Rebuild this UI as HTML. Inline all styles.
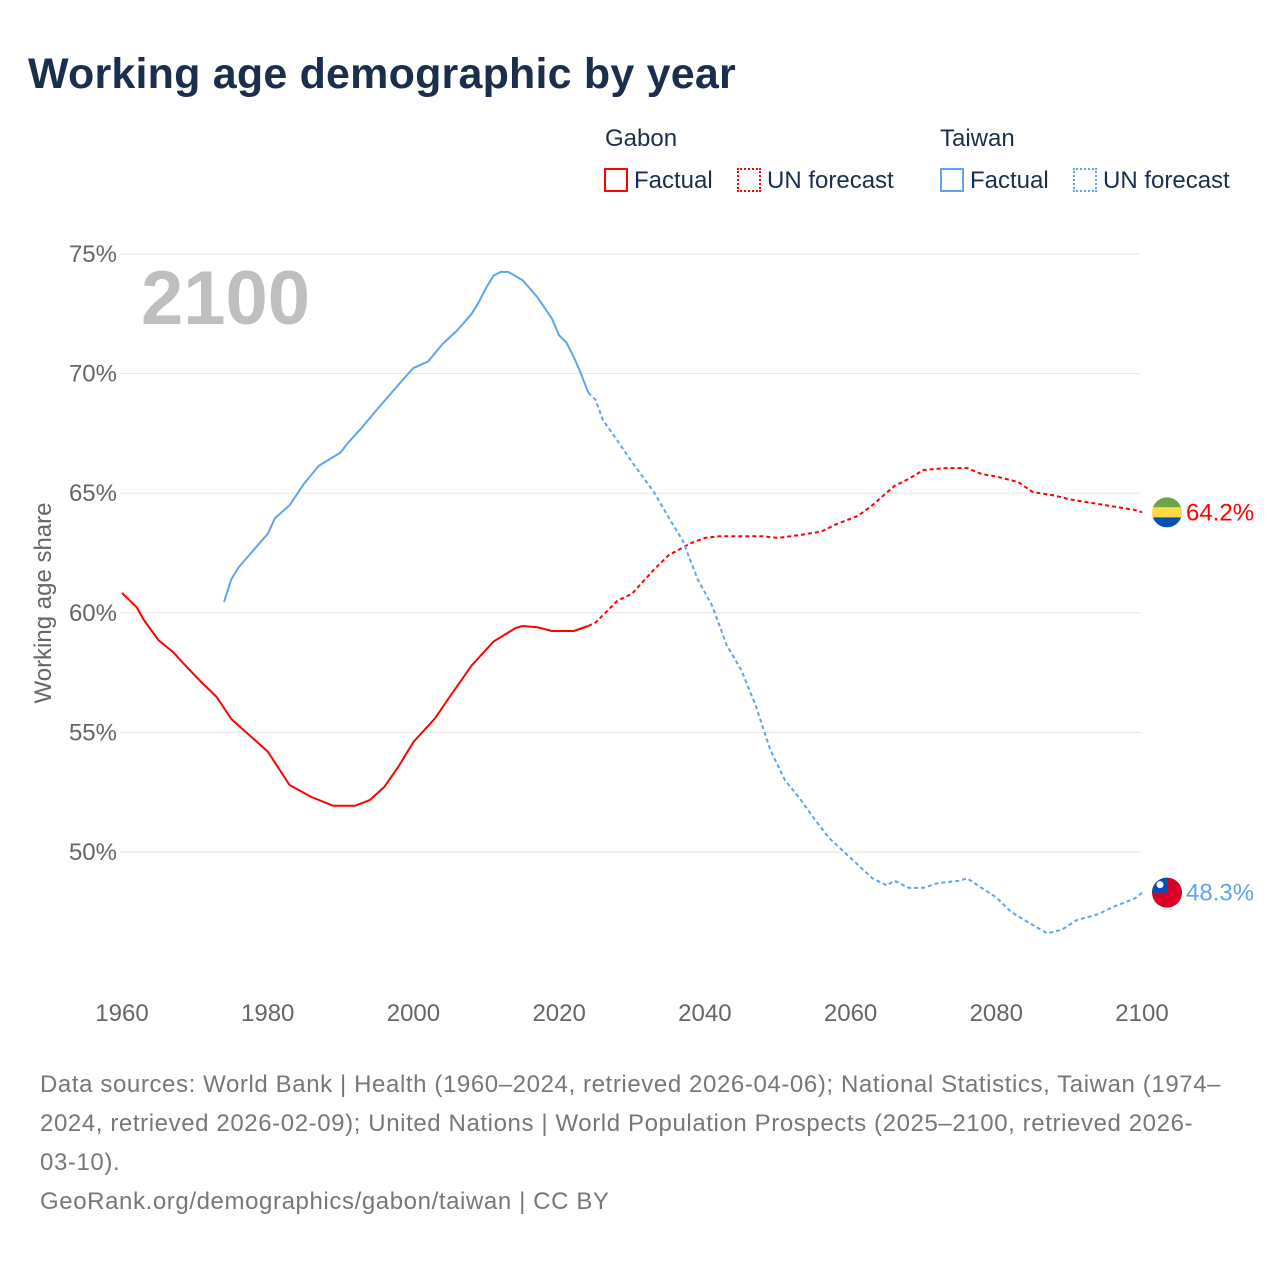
<!DOCTYPE html>
<html><head><meta charset="utf-8">
<style>
html,body{margin:0;padding:0;background:#fff;width:1280px;height:1280px;overflow:hidden;font-family:"Liberation Sans",sans-serif}
.t{position:absolute;white-space:nowrap}
</style></head>
<body>
<div class="t" style="left:28px;top:50px;font-size:43px;font-weight:bold;color:#1b2f4d;letter-spacing:0.2px">Working age demographic by year</div>
<div>
<div class="t" style="left:605px;top:125px;font-size:24px;color:#1b2f4d">Gabon</div>
<div class="t" style="left:940px;top:125px;font-size:24px;color:#1b2f4d">Taiwan</div>
<div class="t" style="left:604px;top:167px;font-size:24px;color:#1b2f4d"><span style="display:inline-block;width:20px;height:20px;border:2px solid #f00;vertical-align:-4px;margin-right:6px"></span>Factual</div>
<div class="t" style="left:737px;top:167px;font-size:24px;color:#1b2f4d"><span style="display:inline-block;width:20px;height:20px;border:2px dotted #f00;vertical-align:-4px;margin-right:6px"></span>UN forecast</div>
<div class="t" style="left:940px;top:167px;font-size:24px;color:#1b2f4d"><span style="display:inline-block;width:20px;height:20px;border:2px solid #5ea5ee;vertical-align:-4px;margin-right:6px"></span>Factual</div>
<div class="t" style="left:1073px;top:167px;font-size:24px;color:#1b2f4d"><span style="display:inline-block;width:20px;height:20px;border:2px dotted #5ea5ee;vertical-align:-4px;margin-right:6px"></span>UN forecast</div>
</div>
<svg id="chart" width="1280" height="1280" style="position:absolute;left:0;top:0" xmlns="http://www.w3.org/2000/svg"></svg>
<div class="t" style="left:40px;top:1065px;font-size:24px;line-height:39px;color:#777;letter-spacing:0.6px">Data sources: World Bank | Health (1960–2024, retrieved 2026-04-06); National Statistics, Taiwan (1974–<br>2024, retrieved 2026-02-09); United Nations | World Population Prospects (2025–2100, retrieved 2026-<br>03-10).<br>GeoRank.org/demographics/gabon/taiwan | CC BY</div>
<script>
const xTicks=[1960,1980,2000,2020,2040,2060,2080,2100];
const yTicks=[50,55,60,65,70,75];
const gabonFactYears=[1960,1962,1963,1965,1967,1969,1971,1973,1975,1980,1983,1986,1989,1992,1994,1996,1998,2000,2003,2005,2008,2011,2014,2015,2017,2019,2022,2024];
const gabonFactVals=[60.83,60.24,59.7,58.86,58.36,57.7,57.07,56.48,55.56,54.2,52.8,52.3,51.93,51.93,52.17,52.72,53.6,54.6,55.6,56.5,57.8,58.8,59.36,59.45,59.4,59.24,59.24,59.45];
const gabonFcYears=[2024,2025,2028,2030,2033,2035,2038,2040,2042,2045,2048,2050,2053,2056,2058,2061,2063,2066,2068,2070,2073,2076,2078,2080,2083,2085,2088,2090,2093,2096,2099,2100];
const gabonFcVals=[59.45,59.6,60.5,60.8,61.8,62.4,62.9,63.13,63.2,63.2,63.2,63.13,63.25,63.4,63.7,64.05,64.5,65.3,65.6,65.97,66.05,66.05,65.8,65.7,65.47,65.05,64.9,64.75,64.6,64.45,64.3,64.2];
const taiwanFactYears=[1974,1975,1976,1978,1980,1981,1983,1985,1987,1990,1991,1993,1995,1997,1999,2000,2002,2004,2006,2008,2009,2010,2011,2012,2013,2015,2017,2019,2020,2021,2022,2023,2024];
const taiwanFactVals=[60.45,61.4,61.9,62.6,63.3,63.96,64.5,65.4,66.14,66.7,67.1,67.77,68.5,69.2,69.9,70.23,70.5,71.24,71.8,72.5,73.0,73.6,74.1,74.25,74.25,73.9,73.2,72.3,71.6,71.3,70.7,70.0,69.2];
const taiwanFcYears=[2024,2025,2026,2028,2030,2033,2035,2037,2039,2041,2043,2045,2047,2049,2051,2053,2055,2057,2060,2063,2065,2066,2068,2070,2072,2075,2076,2078,2080,2082,2085,2087,2089,2091,2094,2096,2099,2100];
const taiwanFcVals=[69.2,68.9,68.06,67.2,66.3,65.05,64.0,63.0,61.4,60.3,58.65,57.6,56.1,54.26,53.0,52.25,51.4,50.6,49.75,48.9,48.6,48.8,48.5,48.5,48.7,48.8,48.9,48.5,48.1,47.5,46.95,46.6,46.75,47.15,47.4,47.7,48.05,48.3];

const NS='http://www.w3.org/2000/svg';
const svg=document.getElementById('chart');
function xS(y){return 122+(y-1960)*(1020/140);}
function yS(v){return 254+(75-v)*23.92;}
function mk(tag,attrs,parent){const e=document.createElementNS(NS,tag);for(const k in attrs)e.setAttribute(k,attrs[k]);(parent||svg).appendChild(e);return e;}

yTicks.forEach(v=>{
  const l=mk('line',{x1:120,x2:1141,y1:yS(v),y2:yS(v),stroke:'#e6e6e6','stroke-width':1});
  
  
  const t=mk('text',{x:117,y:yS(v)+8,'text-anchor':'end','font-size':24,fill:'#666','font-family':'Liberation Sans, sans-serif'});
  t.textContent=v+'%';
  
  
});
xTicks.forEach(y=>{
  const t=mk('text',{x:xS(y),y:1021,'text-anchor':'middle','font-size':24,fill:'#666','font-family':'Liberation Sans, sans-serif'});
  t.textContent=y;
  
  
});
const yt=mk('text',{x:0,y:0,transform:'translate(51,603) rotate(-90)','text-anchor':'middle','font-size':24,fill:'#666','font-family':'Liberation Sans, sans-serif'});
yt.textContent='Working age share';


const yr=mk('text',{x:141,y:324,'font-size':76,'font-weight':'bold',fill:'#bfbfbf','font-family':'Liberation Sans, sans-serif'});
yr.textContent='2100';



function line(years,vals,color,dash,name){
  const d=years.map((y,i)=>(i?'L':'M')+xS(y).toFixed(1)+','+yS(vals[i]).toFixed(1)).join('');
  const p=mk('path',{d:d,fill:'none',stroke:color,'stroke-width':2,'stroke-linejoin':'round'});
  if(dash)p.setAttribute('stroke-dasharray','4,3');
  
  
}
line(gabonFactYears,gabonFactVals,'#f00',false,'gabon-factual-line');
line(gabonFcYears,gabonFcVals,'#f00',true,'gabon-forecast-line');
line(taiwanFactYears,taiwanFactVals,'#5ea5ee',false,'taiwan-factual-line');
line(taiwanFcYears,taiwanFcVals,'#5ea5ee',true,'taiwan-forecast-line');

const gv=gabonFcVals[gabonFcVals.length-1], tv=taiwanFcVals[taiwanFcVals.length-1];
const defs=mk('defs',{});
const c1=mk('clipPath',{id:'cg'},defs);mk('circle',{cx:1167,cy:yS(gv),r:15},c1);
const c2=mk('clipPath',{id:'ct'},defs);mk('circle',{cx:1167,cy:yS(tv),r:15},c2);
const fg=mk('g',{'clip-path':'url(#cg)'});


const gy=yS(gv);
mk('rect',{x:1152,y:gy-15,width:30,height:10,fill:'#6da544'},fg);
mk('rect',{x:1152,y:gy-5,width:30,height:10,fill:'#ffda44'},fg);
mk('rect',{x:1152,y:gy+5,width:30,height:10,fill:'#0052b4'},fg);
const ft=mk('g',{'clip-path':'url(#ct)'});


const ty=yS(tv);
mk('rect',{x:1152,y:ty-15,width:30,height:30,fill:'#d80027'},ft);
mk('rect',{x:1152,y:ty-15,width:16,height:15,fill:'#0052b4'},ft);
mk('circle',{cx:1160,cy:ty-8,r:3.5,fill:'#fff'},ft);
const lg=mk('text',{x:1186,y:yS(gv)+8,'font-size':24,fill:'#f00','font-family':'Liberation Sans, sans-serif'});
lg.textContent=gv.toFixed(1)+'%';


const lt=mk('text',{x:1186,y:yS(tv)+8,'font-size':24,fill:'#5ea5ee','font-family':'Liberation Sans, sans-serif'});
lt.textContent=tv.toFixed(1)+'%';


</script>
</body></html>
